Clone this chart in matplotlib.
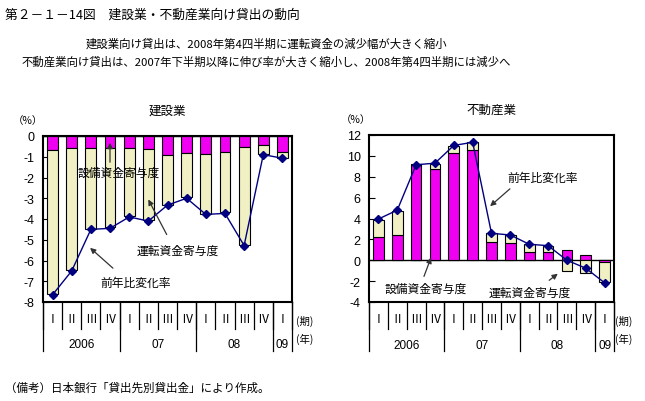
import numpy as np
import matplotlib
matplotlib.use("Agg")
import matplotlib.pyplot as plt

plt.rcParams["font.family"] = ["Noto Sans CJK JP", "DejaVu Sans"]

# ── Data ──────────────────────────────────────────────────────────────────────
quarters = ["Ⅰ", "Ⅱ", "Ⅲ", "Ⅳ", "Ⅰ", "Ⅱ", "Ⅲ", "Ⅳ", "Ⅰ", "Ⅱ", "Ⅲ", "Ⅳ", "Ⅰ"]
years = ["2006", "07", "08", "09"]
year_span = [4, 4, 4, 1]

# 建設業
con_equip = [-0.67, -0.60, -0.56, -0.60, -0.60, -0.65, -0.91, -0.83, -0.85, -0.75, -0.51, -0.45, -0.75]
con_work = [-6.93, -5.88, -3.94, -3.80, -3.27, -3.38, -2.40, -2.13, -2.89, -2.93, -4.72, -0.40, -0.29]
con_yoy = [-7.65, -6.50, -4.50, -4.45, -3.90, -4.10, -3.33, -3.00, -3.78, -3.73, -5.28, -0.90, -1.07]

# 不動産業
re_equip = [2.20, 2.45, 9.25, 8.70, 10.30, 10.60, 1.72, 1.66, 0.83, 0.83, 0.96, 0.48, -0.19]
re_work = [1.70, 2.30, 0.00, 0.55, 0.65, 0.70, 0.86, 0.76, 0.70, 0.51, -0.99, -1.18, -1.91]
re_yoy = [3.95, 4.80, 9.15, 9.30, 11.00, 11.30, 2.58, 2.42, 1.53, 1.40, 0.00, -0.76, -2.16]

MAGENTA = "#F000F0"
BEIGE = "#F0F0C4"
NAVY = "#000080"

W, H = 645, 402
fig = plt.figure(figsize=(W / 100, H / 100), dpi=100)


def px_ax(x0, y0, x1, y1):
    return fig.add_axes([x0 / W, 1 - y1 / H, (x1 - x0) / W, (y1 - y0) / H])


def draw_panel(ax, equip, work, yoy, ylim, yticks, title, tx):
    x = np.arange(len(equip))
    equip = np.array(equip)
    work = np.array(work)
    # stack working-capital on top of equipment when signs agree, else from 0
    bottom = np.where(np.sign(work) == np.sign(equip), equip, 0.0)
    ax.bar(x, equip, width=0.57, color=MAGENTA, edgecolor="black", linewidth=0.8, zorder=2)
    ax.bar(x, work, bottom=bottom, width=0.57, color=BEIGE, edgecolor="black", linewidth=0.8, zorder=2)
    ax.plot(x, yoy, color=NAVY, linewidth=1.0, marker="D", markersize=4.3, zorder=3)

    ax.set_xlim(-0.5, len(equip) - 0.5)
    ax.set_ylim(*ylim)
    ax.set_yticks(yticks)
    ax.set_yticklabels([str(v) for v in yticks], fontsize=9, family="Liberation Sans")
    ax.tick_params(axis="y", direction="in", length=4, pad=6)
    ax.set_xticks([])
    for s in ax.spines.values():
        s.set_linewidth(1.5)
    ax.axhline(0, color="black", linewidth=1.0, zorder=1)
    ax.set_title(title, fontsize=9, pad=16)

    # table below the axis
    trans = ax.get_xaxis_transform()
    for b in np.arange(-0.5, len(equip), 1.0):
        ax.plot([b, b], [0, -0.162], color="black", linewidth=0.9, transform=trans, clip_on=False)
    for i, q in enumerate(quarters):
        ax.text(i, -0.10, q, ha="center", va="center", fontsize=8.5, transform=trans)
    start = -0.5
    ax.plot([start, start], [0, -0.294], color="black", linewidth=0.9, transform=trans, clip_on=False)
    for yr, span in zip(years, year_span):
        end = start + span
        ax.plot([end, end], [0, -0.294], color="black", linewidth=0.9, transform=trans, clip_on=False)
        ax.text((start + end) / 2, -0.255, yr, ha="center", va="center", fontsize=8.5,
                family="Liberation Sans", transform=trans)
        start = end
    fig.text(tx / W, 1 - 321 / H, "(期)", fontsize=7.5, ha="left", va="center")
    fig.text(tx / W, 1 - 339 / H, "(年)", fontsize=7.5, ha="left", va="center")


ax1 = px_ax(43, 137, 292, 303)
draw_panel(ax1, con_equip, con_work, con_yoy, (-8, 0), list(range(0, -9, -1)), "建設業", 296)
fig.text(28 / W, 1 - 121 / H, "（%）", fontsize=7.5, ha="center", va="center")

ax2 = px_ax(369, 136, 614, 303)
draw_panel(ax2, re_equip, re_work, re_yoy, (-4, 12), list(range(-4, 13, 2)), "不動産業", 615)
fig.text(356 / W, 1 - 120 / H, "（%）", fontsize=7.5, ha="center", va="center")

arrow = dict(arrowstyle="-|>", color="#333333", lw=0.9, mutation_scale=8)


def note(text, txy):
    # position in figure pixels
    fig.text(txy[0] / W, 1 - txy[1] / H, text, fontsize=8.5, ha="left", va="center", zorder=5)


def arr(ax, start, end):
    ax.annotate("", xy=(end[0] / W, 1 - end[1] / H), xycoords="figure fraction",
                xytext=(start[0] / W, 1 - start[1] / H), textcoords="figure fraction",
                arrowprops=arrow, zorder=5)


# left annotations
note("設備資金寄与度", (77, 173))
arr(ax1, (110, 166), (110, 141))
note("運転資金寄与度", (137, 251))
arr(ax1, (168, 238), (147, 198))
note("前年比変化率", (100, 283))
arr(ax1, (115, 271), (88, 247))

# right annotations
note("前年比変化率", (507, 178))
arr(ax2, (512, 188), (488, 209))
note("設備資金寄与度", (385, 289))
arr(ax2, (423, 280), (432, 256))
note("運転資金寄与度", (489, 293))
arr(ax2, (547, 283), (560, 273))

fig.text(5 / W, 1 - 15 / H, "第２－１－14図　建設業・不動産業向け貸出の動向", fontsize=9.2,
         ha="left", va="center")
fig.text(266 / W, 1 - 44 / H, "建設業向け貸出は、2008年第4四半期に運転資金の減少幅が大きく縮小",
         fontsize=8.2, ha="center", va="center")
fig.text(266 / W, 1 - 62 / H, "不動産業向け貸出は、2007年下半期以降に伸び率が大きく縮小し、2008年第4四半期には減少へ",
         fontsize=8.2, ha="center", va="center")
fig.text(5 / W, 1 - 388 / H, "（備考）日本銀行「貸出先別貸出金」により作成。", fontsize=8.3,
         ha="left", va="center")

fig.savefig("out.png", dpi=100)
